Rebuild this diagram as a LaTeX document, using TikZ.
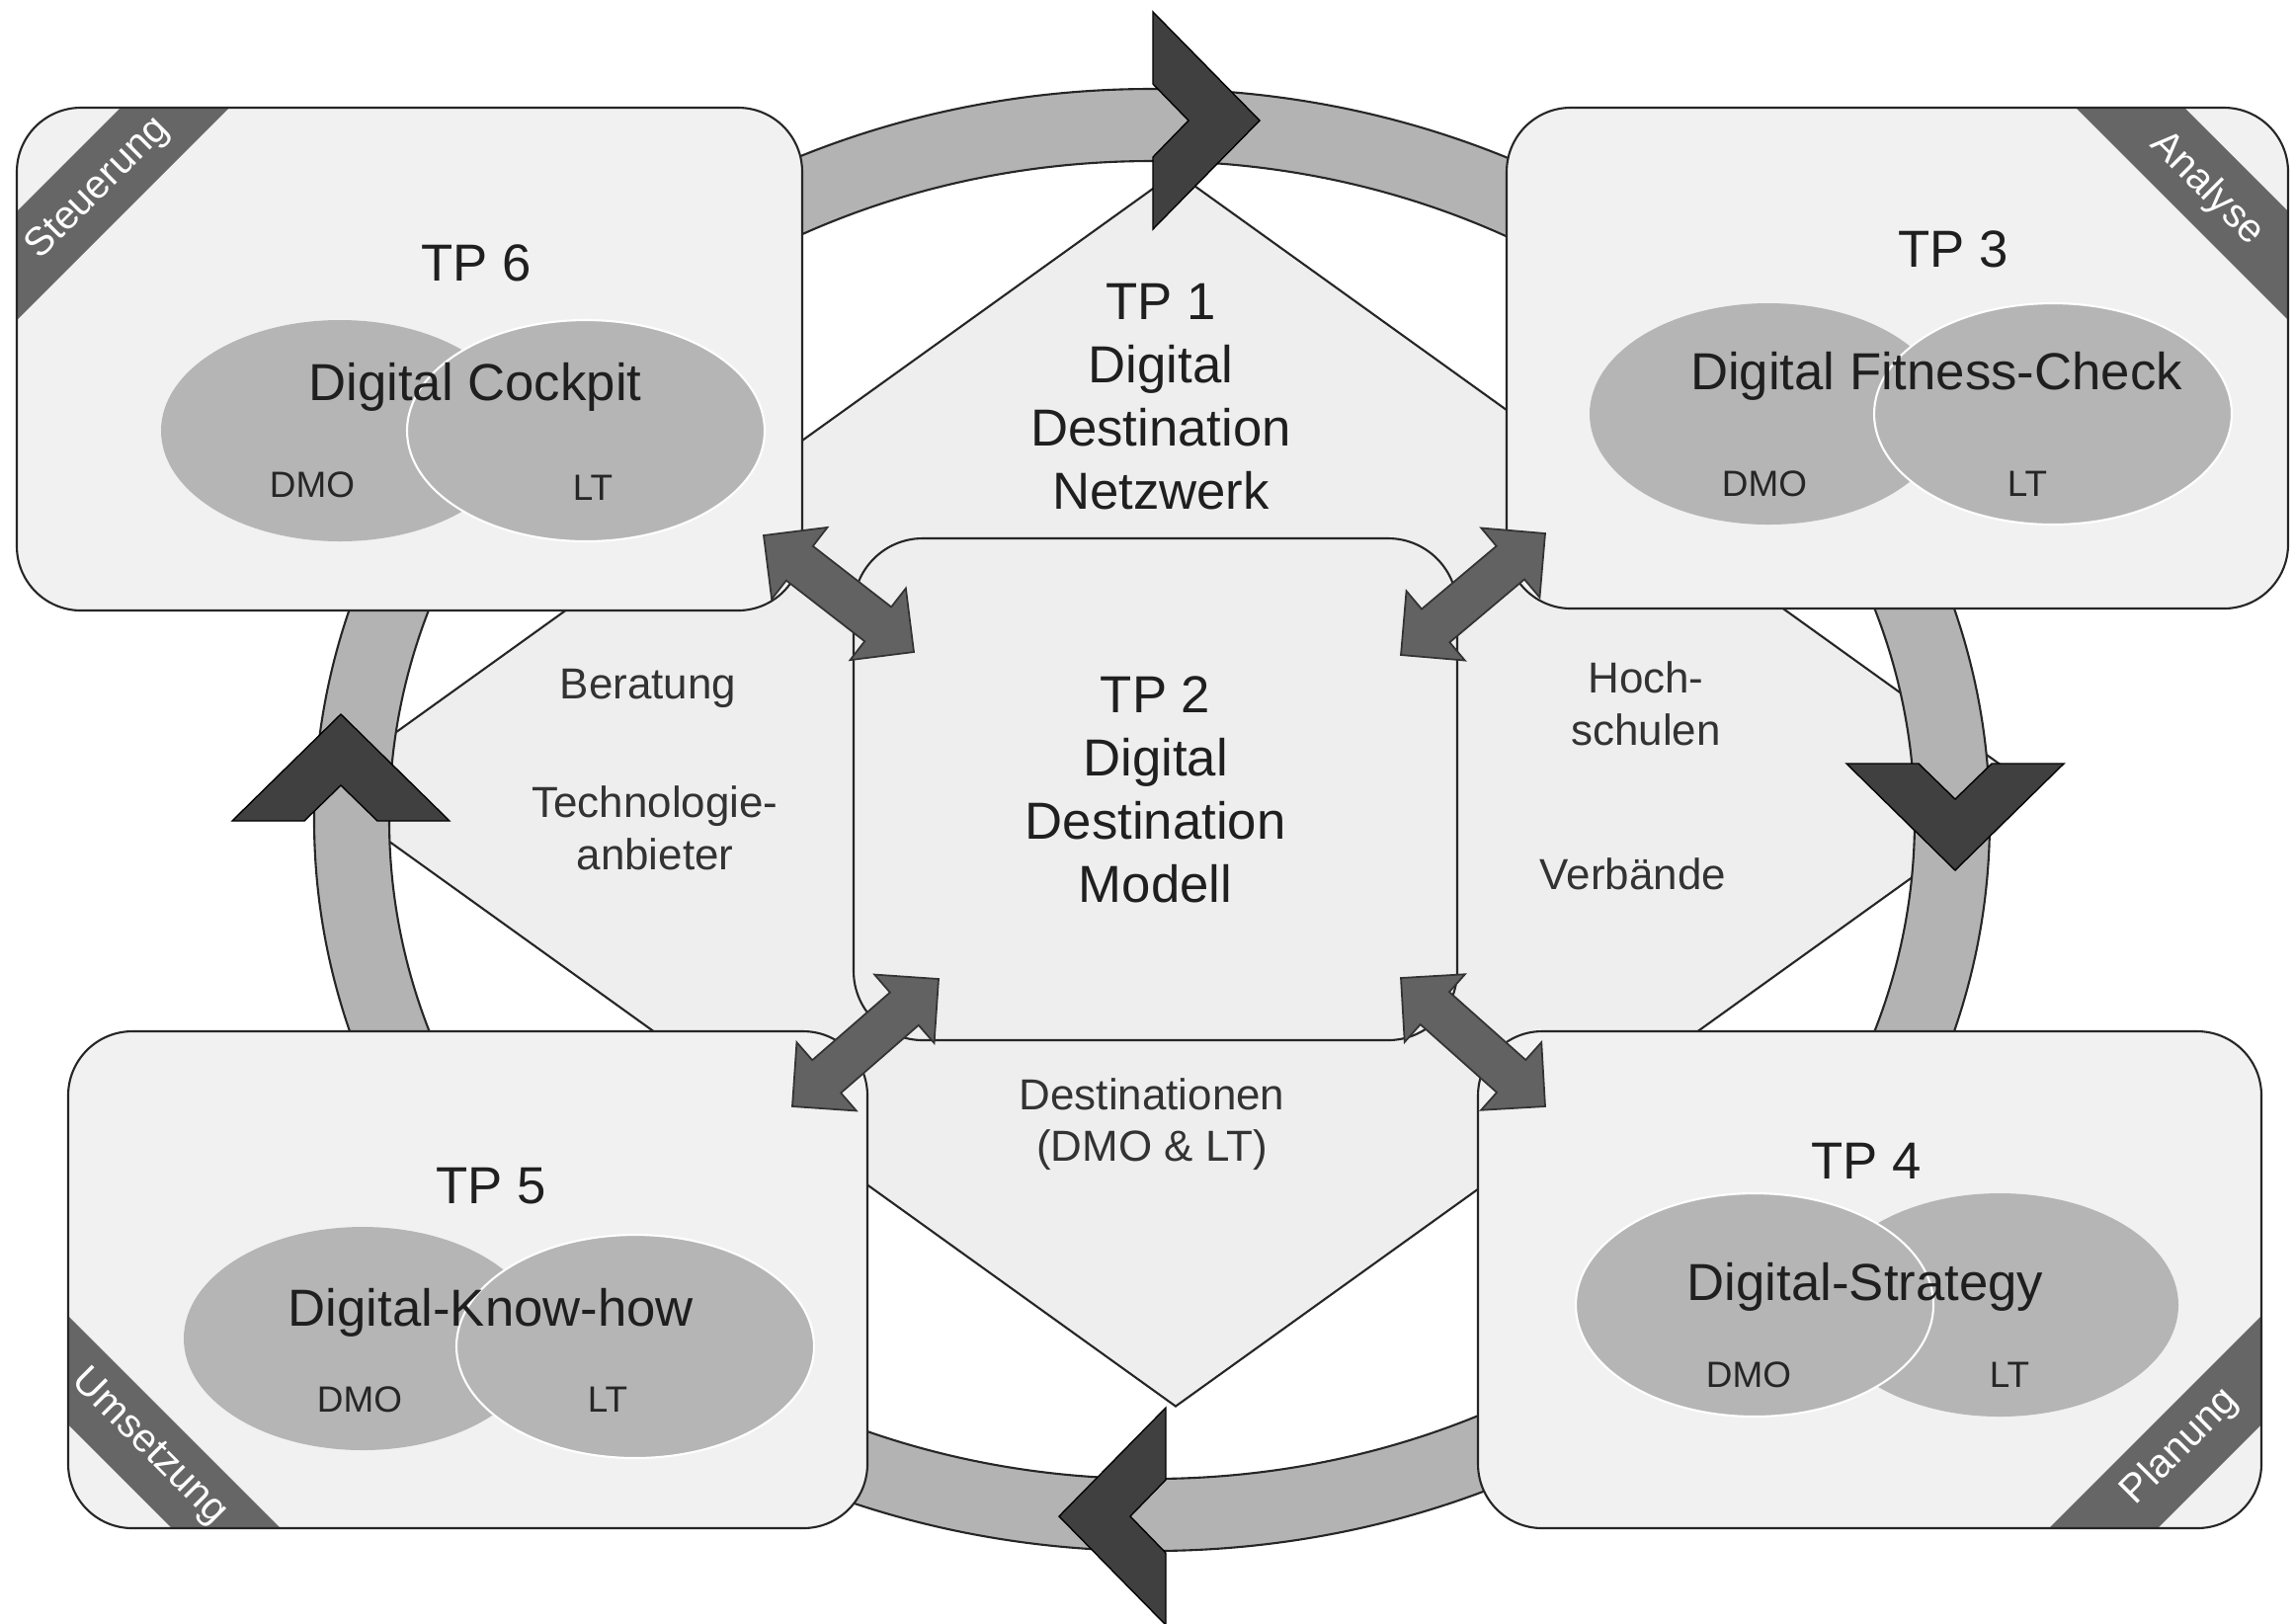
\documentclass[tikz,border=0pt]{standalone}
\usepackage{fontspec}
\setmainfont{Liberation Sans}
\usetikzlibrary{shapes.geometric, calc}

\definecolor{boxgray}{HTML}{F1F1F1}
\definecolor{netgray}{HTML}{EEEEEE}
\definecolor{ringgray}{HTML}{B3B3B3}
\definecolor{chevgray}{HTML}{404040}
\definecolor{linkgray}{HTML}{626262}
\definecolor{bandgray}{HTML}{666666}
\definecolor{venngray}{HTML}{B5B5B5}

\tikzstyle{box} = [rectangle, rounded corners=6.5mm, outer sep=0pt, inner sep=0pt, draw=black!85, line width=0.6pt, fill=boxgray]
\tikzstyle{hub} = [box, rounded corners=7mm, fill=netgray, font=\fontsize{15}{18.2}\selectfont, text=black!88, align=center]
\tikzstyle{netshape} = [diamond, inner sep=0pt, draw=black!85, line width=0.6pt, fill=netgray]
\tikzstyle{cyclering} = [draw=black!85, line width=0.6pt, fill=ringgray, even odd rule]
\tikzstyle{venn} = [ellipse, inner sep=0pt, minimum width=36.2mm, minimum height=22.4mm, fill=venngray]
\tikzstyle{venntop} = [venn, draw=white, line width=0.6pt]
\tikzstyle{tptitle} = [font=\fontsize{15}{18.2}\selectfont, text=black!88, align=center]
\tikzstyle{partner} = [font=\fontsize{10.5}{12}\selectfont, text=black!85]
\tikzstyle{sidetext} = [font=\fontsize{12.5}{15}\selectfont, text=black!80, align=center]
\tikzstyle{bandtext} = [font=\fontsize{11.5}{13}\selectfont, text=white]
\tikzstyle{band nw} = [path picture={\fill[bandgray, sharp corners] ($(path picture bounding box.north west)+(105,0)$) -- ++(110,0) -- ++(-215,215) -- ++(0,-110) -- cycle;}]
\tikzstyle{band ne} = [path picture={\fill[bandgray, sharp corners] ($(path picture bounding box.north east)+(-105,0)$) -- ++(-110,0) -- ++(215,215) -- ++(0,-110) -- cycle;}]
\tikzstyle{band sw} = [path picture={\fill[bandgray, sharp corners] ($(path picture bounding box.south west)+(105,0)$) -- ++(110,0) -- ++(-215,-215) -- ++(0,110) -- cycle;}]
\tikzstyle{band se} = [path picture={\fill[bandgray, sharp corners] ($(path picture bounding box.south east)+(-105,0)$) -- ++(-110,0) -- ++(215,-215) -- ++(0,110) -- cycle;}]
\tikzstyle{link} = [draw=black!80, line width=0.5pt, fill=linkgray, line join=miter,
  to path={(\tikztostart) -- ($(\tikztostart)!6.5mm!45:(\tikztotarget)$)
    -- ($($(\tikztostart)!4.6mm!(\tikztotarget)$)!2.2mm!90:(\tikztotarget)$)
    -- ($($(\tikztotarget)!4.6mm!(\tikztostart)$)!2.2mm!-90:(\tikztostart)$)
    -- ($(\tikztotarget)!6.5mm!-45:(\tikztostart)$)
    -- (\tikztotarget)
    -- ($(\tikztotarget)!6.5mm!45:(\tikztostart)$)
    -- ($($(\tikztotarget)!4.6mm!(\tikztostart)$)!2.2mm!90:(\tikztostart)$)
    -- ($($(\tikztostart)!4.6mm!(\tikztotarget)$)!2.2mm!-90:(\tikztotarget)$)
    -- ($(\tikztostart)!6.5mm!-45:(\tikztotarget)$)
    -- cycle}]
\tikzset{chevron/.pic={\filldraw[fill=chevgray, draw=black, line width=0.4pt] (0,-110) -- (108,0) -- (0,110) -- (0,37) -- (36,0) -- (0,-37) -- cycle;}}

\begin{document}
\begin{tikzpicture}[x=0.1mm, y=-0.1mm]
\useasboundingbox (0,0) rectangle (2322,1643);

% network and cycle
\node (net) [netshape, minimum width=174mm, minimum height=125mm] at (1190,799) {};
\filldraw[cyclering] (1166,830) ellipse [x radius=848, y radius=740] (1166,830) ellipse [x radius=772, y radius=667];
\pic at (1167,122) {chevron};
\pic[rotate=-90] at (1979,773) {chevron};
\pic[rotate=180] at (1180,1535) {chevron};
\pic[rotate=90] at (345,831) {chevron};

% TP 6
\node (tp6) [box, band nw, minimum width=79.5mm, minimum height=50.9mm] at (414.5,363.5) {};
\node (band6) [bandtext, rotate=45] at ($(tp6.north west)+(82,82)$) {Steuerung};
\node (dmo6) [venn] at (344,436) {};
\node (lt6) [venntop] at (593,436) {};
\node (tp6t) [tptitle] at (482,266) {TP 6};
\node (tp6n) [tptitle] at (481,392) {Digital Cockpit};
\node (dmo6t) [partner] at (316,491) {DMO};
\node (lt6t) [partner] at (600,494) {LT};

% TP 3
\node (tp3) [box, band ne, minimum width=79.1mm, minimum height=50.7mm] at (1920.5,362.5) {};
\node (band3) [bandtext, rotate=-45] at ($(tp3.north east)+(-82,82)$) {Analyse};
\node (dmo3) [venn] at (1790,419) {};
\node (lt3) [venntop] at (2078,419) {};
\node (tp3t) [tptitle] at (1977,252) {TP 3};
\node (tp3n) [tptitle] at (1960,381) {Digital Fitness-Check};
\node (dmo3t) [partner] at (1786,490) {DMO};
\node (lt3t) [partner] at (2052,490) {LT};

% TP 5
\node (tp5) [box, band sw, minimum width=80.9mm, minimum height=50.3mm] at (473.5,1295.5) {};
\node (band5) [bandtext, rotate=-45] at ($(tp5.south west)+(82,-82)$) {Umsetzung};
\node (dmo5) [venn, minimum height=22.6mm] at (367,1355) {};
\node (lt5) [venntop, minimum height=22.6mm] at (643,1363) {};
\node (tp5t) [tptitle] at (497,1201) {TP 5};
\node (tp5n) [tptitle] at (497,1329) {Digital-Know-how};
\node (dmo5t) [partner] at (364,1417) {DMO};
\node (lt5t) [partner] at (615,1417) {LT};

% TP 4
\node (tp4) [box, band se, minimum width=79.3mm, minimum height=50.3mm] at (1892.5,1295.5) {};
\node (band4) [bandtext, rotate=45] at ($(tp4.south east)+(-82,-82)$) {Planung};
\node (lt4) [venn, minimum height=22.6mm] at (2024,1321) {};
\node (dmo4) [venntop, minimum height=22.6mm] at (1776,1321) {};
\node (tp4t) [tptitle] at (1889,1175) {TP 4};
\node (tp4n) [tptitle] at (1888,1303) {Digital-Strategy};
\node (dmo4t) [partner] at (1770,1392) {DMO};
\node (lt4t) [partner] at (2034,1392) {LT};

% TP 2 and the network partners
\node (tp2) [hub, minimum width=61.1mm, minimum height=50.8mm] at (1169.5,799) {TP 2\\Digital\\Destination\\Modell};
\node (tp1) [tptitle] at (1175,402) {TP 1\\Digital\\Destination\\Netzwerk};
\node (ber) [sidetext] at (656,697) {Beratung};
\node (tech) [sidetext] at (663,838) {Technologie-\\anbieter};
\node (hoch) [sidetext] at (1666,712) {Hoch-\\schulen};
\node (verb) [sidetext] at (1653,885) {Verbände};
\node (dest) [sidetext] at (1166,1138) {Destinationen\\(DMO \& LT)};

% exchange arrows
\coordinate (a6) at ($(tp6.south east)+(-39,-76)$);
\coordinate (b6) at ($(tp2.north west)+(61,115)$);
\coordinate (a3) at ($(tp3.south west)+(39,-76)$);
\coordinate (b3) at ($(tp2.north east)+(-57,118)$);
\coordinate (a5) at ($(tp5.north east)+(-76,76)$);
\coordinate (b5) at ($(tp2.south west)+(86,-62)$);
\coordinate (a4) at ($(tp4.north west)+(68,76)$);
\coordinate (b4) at ($(tp2.south east)+(-57,-63)$);
\draw [link] (a6) to (b6);
\draw [link] (a3) to (b3);
\draw [link] (a5) to (b5);
\draw [link] (a4) to (b4);

\end{tikzpicture}
\end{document}
